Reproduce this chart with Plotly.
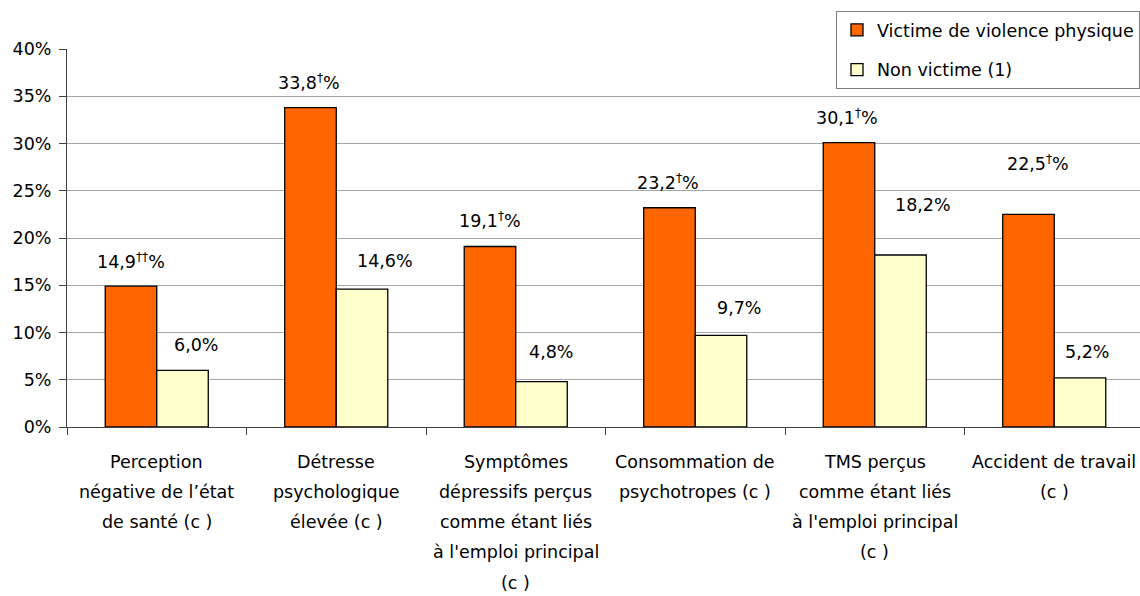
import plotly.graph_objects as go

# ---- data ----
category_lines = [
    ["Perception", "négative de l’état", "de santé (c )"],
    ["Détresse", "psychologique", "élevée (c )"],
    ["Symptômes", "dépressifs perçus", "comme étant liés", "à l'emploi principal", "(c )"],
    ["Consommation de", "psychotropes (c )"],
    ["TMS perçus", "comme étant liés", "à l'emploi principal", "(c )"],
    ["Accident de travail", "(c )"],
]
categories = [" ".join(l) for l in category_lines]
victime = [14.9, 33.8, 19.1, 23.2, 30.1, 22.5]
non_victime = [6.0, 14.6, 4.8, 9.7, 18.2, 5.2]
victime_marks = ["††", "†", "†", "†", "†", "†"]
series_names = ["Victime de violence physique", "Non victime (1)"]
y_ticks = [0, 5, 10, 15, 20, 25, 30, 35, 40]

# ---- label placement (pixels) ----
vic_dx = [0, -1.5, 0, -1, -1.5, 9.5]
vic_dy = [25, 26, 26.5, 26, 26, 51]
non_dx = [13.7, 23, 9, 18, 22.7, 7]
non_dy = [25, 28, 30, 27, 50, 26]

FONT = "DejaVu Sans, Arial, sans-serif"
FS = 17.5
ORANGE = "#FF6600"
YELLOW = "#FFFFCC"

fig = go.Figure()
fig.add_trace(go.Bar(x=categories, y=victime, name=series_names[0],
                     marker=dict(color=ORANGE, line=dict(color="black", width=1.3)),
                     legendgroup="a"))
fig.add_trace(go.Bar(x=categories, y=non_victime, name=series_names[1],
                     marker=dict(color=YELLOW, line=dict(color="black", width=1.3)),
                     legendgroup="b"))

bar_px = 25.8
annotations = []
for i, c in enumerate(categories):
    v = victime[i]
    txt = f"{v:.1f}".replace(".", ",") + f"<sup>{victime_marks[i]}</sup>%"
    annotations.append(dict(x=c, y=v, xref="x", yref="y", text=txt, showarrow=False,
                            xshift=-bar_px + vic_dx[i], yshift=vic_dy[i],
                            font=dict(family=FONT, size=FS, color="black")))
    n = non_victime[i]
    txt = f"{n:.1f}".replace(".", ",") + "%"
    annotations.append(dict(x=c, y=n, xref="x", yref="y", text=txt, showarrow=False,
                            xshift=bar_px + non_dx[i], yshift=non_dy[i],
                            font=dict(family=FONT, size=FS, color="black")))
    for j, line in enumerate(category_lines[i]):
        annotations.append(dict(x=c, y=0, xref="x", yref="y", text=line, showarrow=False,
                                yshift=-34.5 - 30.3 * j,
                                font=dict(family=FONT, size=FS, color="black")))

plot_w = 1140 - 67
plot_h = 596 - 49 - 169
cat_w = 179.5
fig.update_layout(
    width=1140, height=596,
    margin=dict(l=67, r=0, t=49, b=169, autoexpand=False),
    paper_bgcolor="white", plot_bgcolor="white",
    font=dict(family=FONT, size=FS, color="black"),
    barmode="group", bargap=0.426, bargroupgap=0,
    showlegend=True,
    legend=dict(x=1, xanchor="right", y=1 + (49 - 11) / plot_h, yanchor="top",
                bgcolor="white", bordercolor="#808080", borderwidth=1,
                font=dict(family=FONT, size=FS, color="black"),
                itemwidth=30, tracegroupgap=14, traceorder="grouped"),
    annotations=annotations,
)
fig.update_xaxes(type="category", range=[-0.5, -0.5 + plot_w / cat_w],
                 showticklabels=False, ticks="outside", tickson="boundaries", ticklen=7,
                 tickcolor="#404040", showline=True, linecolor="#404040", linewidth=1,
                 showgrid=False, zeroline=False)
fig.update_yaxes(range=[0, 40], tickvals=y_ticks, ticktext=[f"{t}%" for t in y_ticks],
                 ticks="outside", ticklen=7, tickcolor="#404040", ticklabelstandoff=4,
                 showline=True, linecolor="#404040", linewidth=1,
                 showgrid=True, gridcolor="#A6A6A6", gridwidth=1, zeroline=False,
                 tickfont=dict(family=FONT, size=FS, color="black"))

fig.write_html("out.html", config={"displayModeBar": False},
               post_script="document.body.style.margin='0';")
